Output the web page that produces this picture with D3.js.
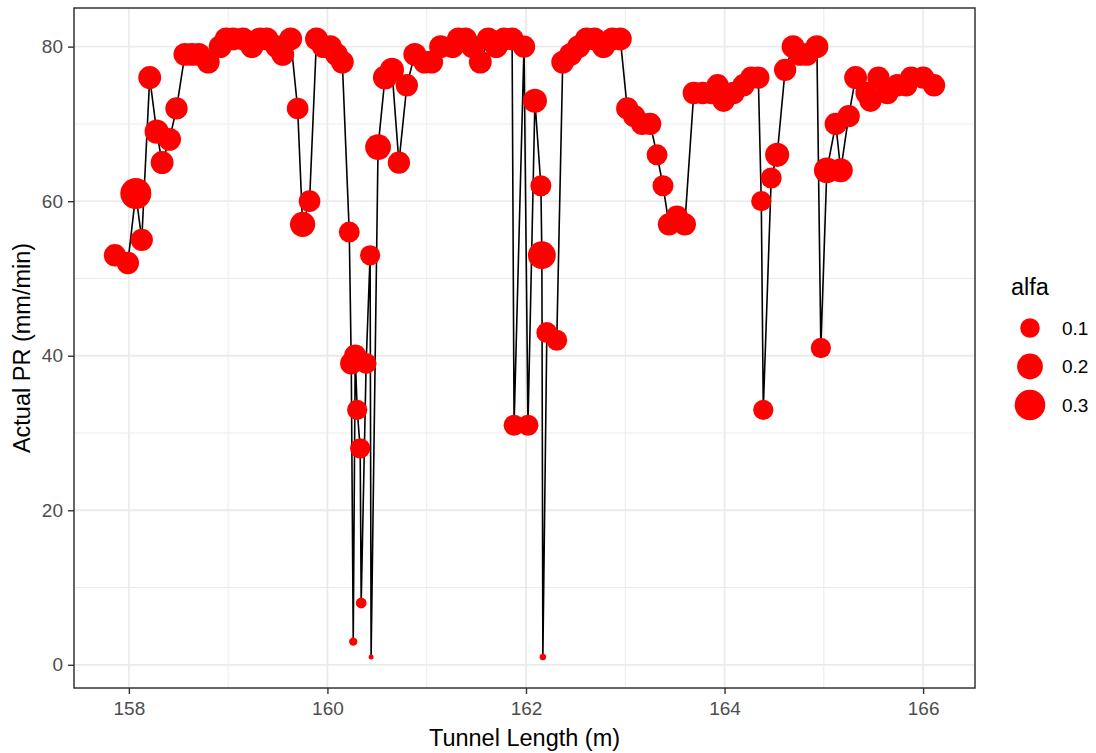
<!DOCTYPE html>
<html>
<head>
<meta charset="utf-8">
<script src="https://cdn.jsdelivr.net/npm/d3@7"></script>
<style>
body{margin:0;background:#fff;}
svg{display:block;font-family:"Liberation Sans",Arial,sans-serif;}
</style>
</head>
<body>
<svg id="chart" width="1096" height="753"></svg>
<script>
// data
var tunnelLength = [157.86,157.99,158.07,158.13,158.21,158.28,158.335,158.41,158.48,
  158.565,158.635,158.705,158.80,158.92,158.98,159.05,159.15,159.24,159.32,159.39,159.49,159.55,159.63,
  159.70,159.75,159.82,159.89,159.96,160.03,160.09,160.15,
  160.22,160.24,160.26,160.28,160.30,160.33,160.34,160.39,160.43,160.44,
  160.51,160.58,160.65,160.72,160.80,
  160.88,160.98,161.05,161.14,161.26,161.32,161.39,161.46,161.54,161.62,161.70,161.78,161.86,
  161.88,161.98,162.02,162.09,162.15,162.16,162.17,162.21,162.31,
  162.37,162.45,162.53,162.61,162.69,162.78,162.87,162.95,
  163.02,163.09,163.17,163.25,163.32,163.38,163.44,163.52,163.60,
  163.69,163.78,163.87,163.93,163.99,164.09,164.19,164.27,164.34,
  164.37,164.39,164.47,164.53,164.61,164.69,164.76,164.83,164.93,
  164.97,165.03,165.12,165.17,165.25,165.32,165.43,165.47,165.55,165.64,165.74,165.83,165.88,166.00,166.11]
var actualPR = [53,52,61,55,76,69,65,68,72,
  79,79,79,78,80,81,81,81,80,81,81,80,79,81,
  72,57,60,81,80,80,79,78,
  56,39,3,40,33,28,8,39,53,1,
  67,76,77,65,75,
  79,78,78,80,80,81,81,80,78,81,80,81,81,
  31,80,31,73,62,53,1,43,42,
  78,79,80,81,81,80,81,81,
  72,71,70,70,66,62,57,58,57,
  74,74,74,75,73,74,75,76,76,
  60,33,63,66,77,80,79,79,80,
  41,64,70,64,71,76,74,73,76,74,75,75,76,76,75]
var alfa = [0.14,0.14,0.31,0.14,0.15,0.17,0.15,0.15,0.14,
  0.15,0.15,0.15,0.15,0.15,0.15,0.15,0.15,0.15,0.15,0.15,0.15,0.15,0.15,
  0.13,0.19,0.13,0.15,0.15,0.15,0.15,0.15,
  0.12,0.14,0.01,0.14,0.11,0.11,0.02,0.12,0.11,0.005,
  0.20,0.17,0.17,0.14,0.14,
  0.15,0.15,0.15,0.15,0.15,0.15,0.15,0.15,0.15,0.15,0.15,0.15,0.15,
  0.12,0.14,0.12,0.17,0.12,0.24,0.006,0.12,0.12,
  0.15,0.15,0.15,0.15,0.15,0.15,0.15,0.15,
  0.14,0.14,0.14,0.14,0.12,0.12,0.14,0.14,0.14,
  0.14,0.14,0.14,0.14,0.14,0.14,0.14,0.14,0.14,
  0.11,0.11,0.12,0.17,0.14,0.15,0.15,0.15,0.15,
  0.11,0.20,0.14,0.17,0.14,0.15,0.14,0.14,0.14,0.14,0.14,0.14,0.14,0.14,0.14]
var xTicks = [158,160,162,164,166], xMinor = [159,161,163,165]
var yTicks = [0,20,40,60,80], yMinor = [10,30,50,70]
var legendBreaks = [0.1,0.2,0.3]

var pl=74, pr=975, pt=8, pb=688
var svg = d3.select('#chart')

// ggplot style 5% expansion
var xr = d3.extent(tunnelLength), yr = d3.extent(actualPR)
var xpad = (xr[1]-xr[0])*0.05, ypad = (yr[1]-yr[0])*0.05
var x = d3.scaleLinear().domain([xr[0]-xpad, xr[1]+xpad]).range([pl,pr])
var y = d3.scaleLinear().domain([yr[0]-ypad, yr[1]+ypad]).range([pb,pt])
var aMin = d3.min(alfa), aMax = d3.max(alfa)
var rad = d3.scaleLinear().domain([0,1]).range([2.5,15.5])
function r(a){ return rad(Math.sqrt((a-aMin)/(aMax-aMin))) }

var data = tunnelLength.map(function(d,i){ return {x:d, y:actualPR[i], a:alfa[i]} })
data.sort(function(a,b){ return a.x-b.x })

// grid
var grid = svg.append('g')
grid.selectAll('.vmin').data(xMinor).enter().append('line')
  .attr('x1',x).attr('x2',x).attr('y1',pt).attr('y2',pb)
  .attr('stroke','#ebebeb').attr('stroke-width',1)
grid.selectAll('.hmin').data(yMinor).enter().append('line')
  .attr('y1',y).attr('y2',y).attr('x1',pl).attr('x2',pr)
  .attr('stroke','#ebebeb').attr('stroke-width',1)
grid.selectAll('.vmaj').data(xTicks).enter().append('line')
  .attr('x1',x).attr('x2',x).attr('y1',pt).attr('y2',pb)
  .attr('stroke','#ebebeb').attr('stroke-width',1.8)
grid.selectAll('.hmaj').data(yTicks).enter().append('line')
  .attr('y1',y).attr('y2',y).attr('x1',pl).attr('x2',pr)
  .attr('stroke','#ebebeb').attr('stroke-width',1.8)

// line + points
svg.append('path').datum(data)
  .attr('d', d3.line().x(function(d){return x(d.x)}).y(function(d){return y(d.y)}))
  .attr('fill','none').attr('stroke','#000').attr('stroke-width',1.6)
svg.append('g').selectAll('circle').data(data).enter().append('circle')
  .attr('cx',function(d){return x(d.x)}).attr('cy',function(d){return y(d.y)})
  .attr('r',function(d){return r(d.a)}).attr('fill','#ff0000')

// border
svg.append('rect').attr('x',pl).attr('y',pt).attr('width',pr-pl).attr('height',pb-pt)
  .attr('fill','none').attr('stroke','#333').attr('stroke-width',1.5)

// axes
var gx = svg.append('g').attr('transform','translate(0,'+pb+')')
  .call(d3.axisBottom(x).tickValues(xTicks).tickSize(6).tickPadding(8))
var gy = svg.append('g').attr('transform','translate('+pl+',0)')
  .call(d3.axisLeft(y).tickValues(yTicks).tickSize(6).tickPadding(5))
;[gx,gy].forEach(function(g){
  g.select('.domain').remove()
  g.selectAll('line').attr('stroke','#333').attr('stroke-width',1.4)
  g.selectAll('text').attr('fill','#4d4d4d').style('font-size','19px')
})

// titles
svg.append('text').attr('x',(pl+pr)/2).attr('y',746).attr('text-anchor','middle')
  .style('font-size','23.5px').text('Tunnel Length (m)')
svg.append('text').attr('transform','translate(30,'+((pt+pb)/2)+') rotate(-90)')
  .attr('text-anchor','middle').style('font-size','23.5px').text('Actual PR (mm/min)')

// legend
var lg = svg.append('g')
lg.append('text').attr('x',1011).attr('y',295).style('font-size','23.5px').text('alfa')
var ky = [328,366.5,405]
lg.selectAll('circle').data(legendBreaks).enter().append('circle')
  .attr('cx',1030).attr('cy',function(d,i){return ky[i]}).attr('r',r).attr('fill','#ff0000')
lg.selectAll('.lab').data(legendBreaks).enter().append('text')
  .attr('x',1062).attr('y',function(d,i){return ky[i]}).attr('dy','0.35em')
  .attr('fill','#000').style('font-size','19px').text(function(d){return d.toFixed(1)})
</script>
</body>
</html>
